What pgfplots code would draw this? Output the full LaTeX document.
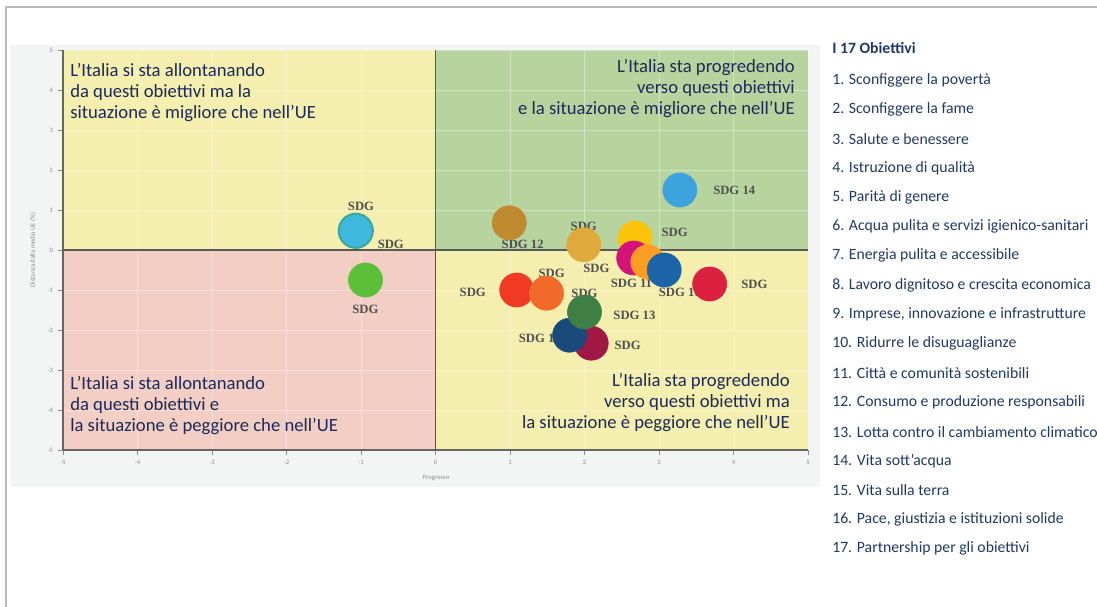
\documentclass[border=0pt]{standalone}
\usepackage{fontspec}
\setmainfont{Carlito}
\newfontfamily\labfont{Liberation Serif}
\usepackage{pgfplots}
\pgfplotsset{compat=1.18}
\definecolor{qyellow}{HTML}{F4EFAE}
\definecolor{qgreen}{HTML}{B7D49E}
\definecolor{qpink}{HTML}{F2CEC4}
\definecolor{panel}{HTML}{F3F4F4}
\definecolor{qtext}{HTML}{1B2A5A}
\definecolor{legtext}{HTML}{1F3864}
\definecolor{lab}{HTML}{505050}
\definecolor{s6}{HTML}{3FB8E0}
\definecolor{s6o}{HTML}{3AA99A}
\definecolor{s15}{HTML}{5BBF3A}
\definecolor{s14}{HTML}{3DA3DC}
\definecolor{s12}{HTML}{C08A30}
\definecolor{s2}{HTML}{E0A93C}
\definecolor{s7}{HTML}{FCC30B}
\definecolor{s10}{HTML}{D4137A}
\definecolor{s11}{HTML}{FD9D24}
\definecolor{s16}{HTML}{1C64A8}
\definecolor{s4}{HTML}{DC2040}
\definecolor{s5}{HTML}{F03A23}
\definecolor{s9}{HTML}{F26A2A}
\definecolor{s13}{HTML}{3F7E44}
\definecolor{s17}{HTML}{1A4A7A}
\definecolor{s8}{HTML}{A01845}
\pgfplotsset{set layers}
\begin{document}
\begin{tikzpicture}
\begin{scope}[x=0.75pt,y=-0.75pt]
\draw[gray!55, line width=1.3pt] (6,607) -- (6,7) -- (1097,7);
\end{scope}
\begin{axis}[
  at={(47.25pt,-337.5pt)}, anchor=south west,
  scale only axis, width=558.75pt, height=300pt,
  xmin=-5, xmax=5, ymin=-5, ymax=5,
  xtick={-5,...,5}, ytick={-5,...,5},
  axis x line*=bottom, axis y line*=left,
  axis line style={-, draw=black!60, line width=1.3pt},
  tick align=outside, major tick length=4pt,
  tick style={black!45, line width=0.6pt},
  grid=major, grid style={white, opacity=0.35, line width=0.5pt},
  /pgf/number format/assume math mode=true,
  ticklabel style={font=\fontsize{5}{6}\selectfont, text=black!45},
  clip=false,
]
\begin{pgfonlayer}{axis background}
\fill[panel] (rel axis cs:-0.0711,-0.0925) rectangle (rel axis cs:1.0161,1.0125);
\fill[qyellow] (axis cs:-5,0) rectangle (axis cs:0,5);
\fill[qgreen] (axis cs:0,0) rectangle (axis cs:5,5);
\fill[qpink] (axis cs:-5,-5) rectangle (axis cs:0,0);
\fill[qyellow] (axis cs:0,-5) rectangle (axis cs:5,0);
\end{pgfonlayer}
\draw[black!65, line width=1.2pt] (axis cs:0,-5) -- (axis cs:0,5);
\draw[black!65, line width=1.2pt] (axis cs:-5,0) -- (axis cs:5,0);
% bubble labels (drawn beneath the bubbles)
\begin{scope}[every node/.style={font=\labfont\fontsize{9.5}{10}\selectfont\bfseries, text=lab, inner sep=0pt}]
\node at (axis cs:-1.00,1.08) {SDG};
\node at (axis cs:-0.60,0.13) {SDG};
\node at (axis cs:-0.94,-1.48) {SDG};
\node at (axis cs:4.01,1.50) {SDG 14};
\node at (axis cs:1.17,0.13) {SDG 12};
\node at (axis cs:1.99,0.60) {SDG};
\node at (axis cs:3.21,0.43) {SDG};
\node at (axis cs:2.16,-0.45) {SDG};
\node at (axis cs:2.63,-0.83) {SDG 11};
\node at (axis cs:3.28,-1.05) {SDG 16};
\node at (axis cs:4.28,-0.85) {SDG};
\node at (axis cs:0.50,-1.05) {SDG};
\node at (axis cs:1.56,-0.58) {SDG};
\node at (axis cs:2.00,-1.08) {SDG};
\node at (axis cs:2.67,-1.63) {SDG 13};
\node at (axis cs:1.40,-2.20) {SDG 17};
\node at (axis cs:2.58,-2.38) {SDG};
\end{scope}
% bubbles
\addplot[only marks, mark=*, mark size=12.8pt, mark options={fill=s6, draw=s6o, line width=1.5pt}] coordinates {(-1.07,0.48)};
\addplot[only marks, mark=*, mark size=12.8pt, color=s15] coordinates {(-0.94,-0.75)};
\addplot[only marks, mark=*, mark size=12.8pt, color=s14] coordinates {(3.28,1.50)};
\addplot[only marks, mark=*, mark size=12.8pt, color=s12] coordinates {(0.99,0.68)};
\addplot[only marks, mark=*, mark size=12.8pt, color=s2] coordinates {(1.99,0.13)};
\addplot[only marks, mark=*, mark size=12.8pt, color=s7] coordinates {(2.68,0.30)};
\addplot[only marks, mark=*, mark size=12.8pt, color=s10] coordinates {(2.66,-0.20)};
\addplot[only marks, mark=*, mark size=12.8pt, color=s11] coordinates {(2.85,-0.30)};
\addplot[only marks, mark=*, mark size=12.8pt, color=s16] coordinates {(3.07,-0.50)};
\addplot[only marks, mark=*, mark size=12.8pt, color=s4] coordinates {(3.68,-0.85)};
\addplot[only marks, mark=*, mark size=12.8pt, color=s5] coordinates {(1.09,-1.00)};
\addplot[only marks, mark=*, mark size=12.8pt, color=s9] coordinates {(1.49,-1.08)};
\addplot[only marks, mark=*, mark size=12.8pt, color=s8] coordinates {(2.09,-2.33)};
\addplot[only marks, mark=*, mark size=12.8pt, color=s17] coordinates {(1.80,-2.13)};
\addplot[only marks, mark=*, mark size=12.8pt, color=s13] coordinates {(2.00,-1.55)};
\end{axis}
\begin{scope}[x=0.75pt,y=-0.75pt]
\node[font=\fontsize{5}{6}\selectfont, text=black!45, rotate=90] at (33,250) {Distanza dalla media UE (\%)};
\node[font=\fontsize{5}{6}\selectfont, text=black!45] at (436,478) {Progresso};
\begin{scope}[every node/.style={font=\fontsize{14}{15.9}\selectfont, text=qtext, inner sep=0pt}]
\node[anchor=north west, align=left] at (70,63) {L’Italia si sta allontanando\\da questi obiettivi ma la\\situazione è migliore che nell’UE};
\node[anchor=north east, align=right] at (795,59) {L’Italia sta progredendo\\verso questi obiettivi\\e la situazione è migliore che nell’UE};
\node[anchor=north west, align=left] at (70,376) {L’Italia si sta allontanando\\da questi obiettivi e\\la situazione è peggiore che nell’UE};
\node[anchor=north east, align=right] at (790,373) {L’Italia sta progredendo\\verso questi obiettivi ma\\la situazione è peggiore che nell’UE};
\end{scope}
\begin{scope}[every node/.style={font=\fontsize{11.8}{13}\selectfont, text=legtext, inner sep=0pt, anchor=west}]
\node[font=\fontsize{11.8}{13}\selectfont\bfseries] at (832,48) {I 17 Obiettivi};
\node at (832,80.0) {1. Sconfiggere la povertà};
\node at (832,109.3) {2. Sconfiggere la fame};
\node at (832,138.6) {3. Salute e benessere};
\node at (832,167.9) {4. Istruzione di qualità};
\node at (832,197.2) {5. Parità di genere};
\node at (832,226.5) {6. Acqua pulita e servizi igienico-sanitari};
\node at (832,255.8) {7. Energia pulita e accessibile};
\node at (832,285.1) {8. Lavoro dignitoso e crescita economica};
\node at (832,314.4) {9. Imprese, innovazione e infrastrutture};
\node at (832,343.7) {10. Ridurre le disuguaglianze};
\node at (832,373.0) {11. Città e comunità sostenibili};
\node at (832,402.3) {12. Consumo e produzione responsabili};
\node at (832,431.6) {13. Lotta contro il cambiamento climatico};
\node at (832,460.9) {14. Vita sott’acqua};
\node at (832,490.2) {15. Vita sulla terra};
\node at (832,519.5) {16. Pace, giustizia e istituzioni solide};
\node at (832,548.8) {17. Partnership per gli obiettivi};
\end{scope}
\end{scope}
\pgfresetboundingbox
\path[use as bounding box] (0,0) rectangle (822.75pt,-455.25pt);
\end{tikzpicture}
\end{document}
